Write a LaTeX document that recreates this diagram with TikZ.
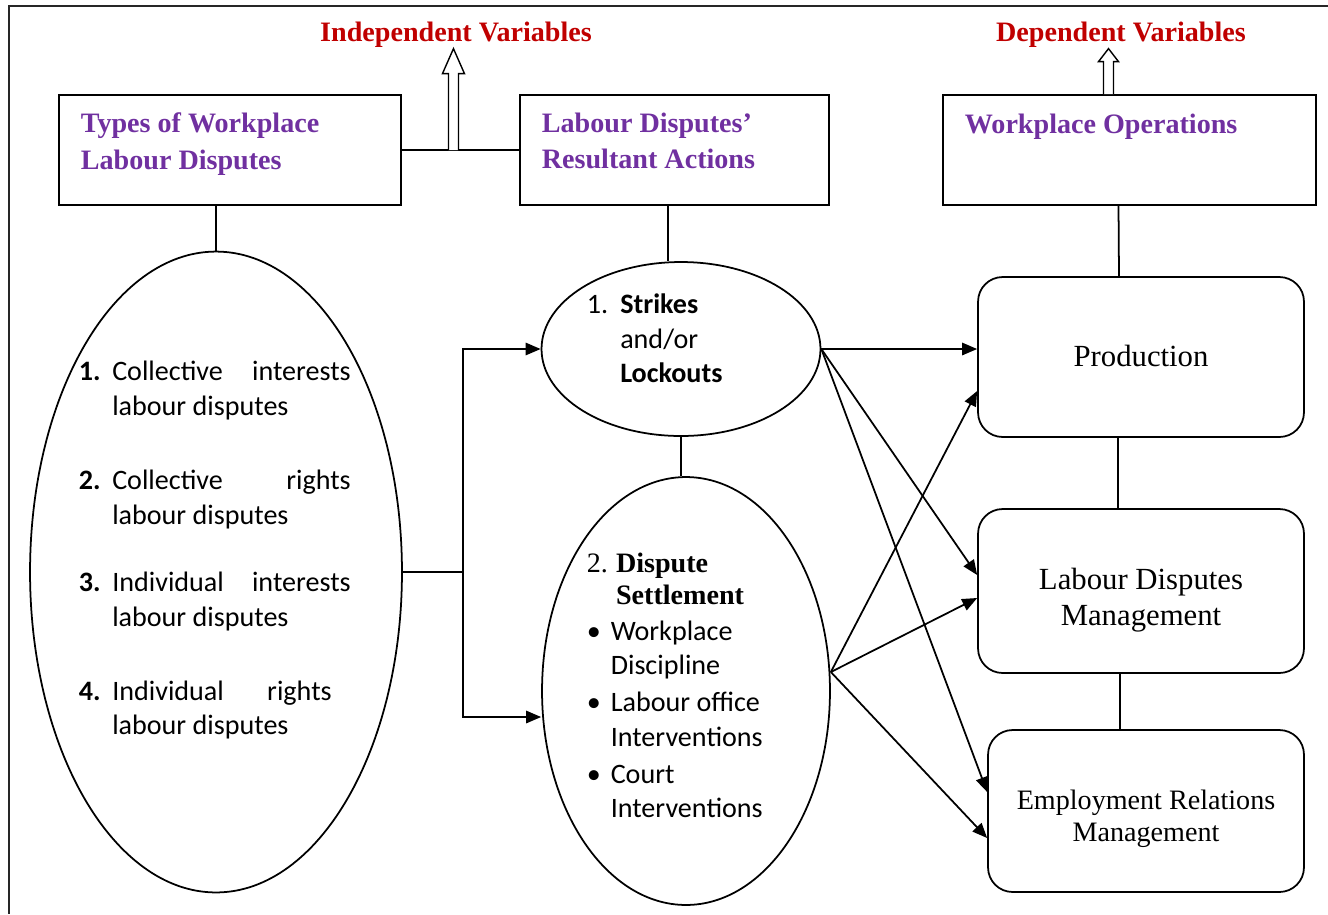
\documentclass[tikz,border=0pt]{standalone}
\usepackage{fontspec}
\setmainfont{Liberation Serif}
\newfontfamily\calibri{Carlito}
\usepackage{tikz}
\usetikzlibrary{shapes.geometric,arrows.meta,calc,positioning}
\definecolor{titlepurple}{RGB}{112,48,160}
\definecolor{varred}{RGB}{192,0,0}

\begin{document}
\begin{tikzpicture}[x=0.02cm,y=-0.02cm,
    line width=1pt,
    plainbox/.style={draw, rectangle, minimum height=2.2cm, inner sep=0},
    roundbox/.style={draw, rectangle, rounded corners=14pt, inner sep=0},
    oval/.style={draw, ellipse, inner sep=0},
    boxtitle/.style={anchor=north west, inner sep=0, align=left, text=titlepurple,
        font=\fontsize{16}{20.8}\selectfont\bfseries},
    vartitle/.style={inner sep=0, text=varred, font=\fontsize{16}{19}\selectfont\bfseries},
    optext/.style={inner sep=0, align=center},
    arr/.style={-{Triangle[length=8.5pt,width=7pt]}},
    hollow/.style={fill=white, line width=0.8pt}
]
\useasboundingbox (0,0) rectangle (1328,914);

% frame
\draw[line width=1.4pt, black!85] (8,6) -- (1328,6);
\draw[line width=0.8pt, black!85] (9,6) -- (9,914);

% variable headings
\node[vartitle] (indep) at (456,35) {Independent Variables};
\node[vartitle] (dep) at (1121,35) {Dependent Variables};

% top boxes
\node[plainbox, minimum width=6.84cm] (box1) at (230,150) {};
\node[plainbox, minimum width=6.18cm] (box2) at (674.5,150) {};
\node[plainbox, minimum width=7.46cm] (box3) at (1129.5,150) {};
\node[boxtitle] (box1title) at (80,112) {Types of Workplace\\Labour Disputes};
\node[boxtitle] (box2title) at (541,112) {Labour Disputes'\\Resultant Actions};
\node[boxtitle] (box3title) at (964,113.5) {Workplace Operations};

% ellipses
\node[oval, minimum width=7.44cm, minimum height=12.82cm] (types) at (216,572) {};
\node[oval, minimum width=5.58cm, minimum height=3.48cm] (strikes) at (681,349) {};
\node[oval, minimum width=5.76cm, minimum height=8.56cm] (settle) at (686,691) {};

\node[anchor=north west, inner sep=0, font=\calibri\fontsize{16}{19.6}\selectfont] (typestext) at (78,355.8) {%
  \begin{tabular}{@{}p{19pt}@{}p{4.77cm}@{}}
    \textbf{1.} & Collective\hfill interests\newline labour disputes\\[22.9pt]
    \textbf{2.} & Collective\hfill rights\newline labour disputes\\[18.9pt]
    \textbf{3.} & Individual\hfill interests\newline labour disputes\\[22.4pt]
    \textbf{4.} & Individual\hspace{24.7pt}rights\newline labour disputes
  \end{tabular}};

\node[anchor=north west, inner sep=0, font=\calibri\fontsize{16}{19.6}\selectfont] (strikestext) at (586,289) {%
  \begin{tabular}{@{}p{19pt}@{}l@{}}
    1. & \textbf{Strikes}\\
       & and/or\\
       & \textbf{Lockouts}
  \end{tabular}};

\node[anchor=north west, inner sep=0, font=\fontsize{16}{18}\selectfont] (settletext) at (586,549.5) {%
  \begin{tabular}{@{}l@{}}
    \makebox[16.6pt][l]{2.}\textbf{Dispute}\\
    \hspace*{16.6pt}\textbf{Settlement}\\[2.6pt]
    {\calibri\makebox[13.6pt][l]{\textbullet}Workplace}\\[1.5pt]
    {\calibri\hspace*{13.6pt}Discipline}\\[3.2pt]
    {\calibri\makebox[13.6pt][l]{\textbullet}Labour office}\\[1.5pt]
    {\calibri\hspace*{13.6pt}Interventions}\\[3.2pt]
    {\calibri\makebox[13.6pt][l]{\textbullet}Court}\\[1.6pt]
    {\calibri\hspace*{13.6pt}Interventions}
  \end{tabular}};

% outcome boxes
\node[roundbox, minimum width=6.52cm, minimum height=3.2cm] (prod) at (1141,357) {};
\node[roundbox, minimum width=6.52cm, minimum height=3.28cm] (ldm) at (1141,591) {};
\node[roundbox, minimum width=6.32cm, minimum height=3.24cm] (erm) at (1146,811) {};
\node[optext, font=\fontsize{17.5}{20.4}\selectfont] (prodtext) at (1141,356) {Production};
\node[optext, font=\fontsize{17.5}{20.4}\selectfont] (ldmtext) at (1141,600) {Labour Disputes\\Management};
\node[optext, font=\fontsize{16}{18}\selectfont] (ermtext) at (1146,819) {Employment Relations\\Management};

% hollow arrows to the headings
\draw (box1.east) -- (box2.west);
\coordinate (ivbase) at ($(box1.east)!0.44!(box2.west)$);
\coordinate (ivtip) at (ivbase |- indep.south);
\draw[hollow] ($(ivbase)+(-5,0)$) -- ($(ivtip)+(-5,25)$) -- ($(ivtip)+(-11,25)$) -- (ivtip)
    -- ($(ivtip)+(11,25)$) -- ($(ivtip)+(5,25)$) -- ($(ivbase)+(5,0)$);
\coordinate (dvbase) at ($(box3.north)+(-21,0)$);
\coordinate (dvtip) at (dvbase |- dep.south);
\draw[hollow] ($(dvbase)+(-5,0)$) -- ($(dvtip)+(-5,13)$) -- ($(dvtip)+(-10,13)$) -- (dvtip)
    -- ($(dvtip)+(10,13)$) -- ($(dvtip)+(5,13)$) -- ($(dvbase)+(5,0)$);

% vertical links
\draw (types.north) -- (types.north |- box1.south);
\coordinate (skin) at ($(strikes.north)+(-13,0)$);
\draw (skin) -- (skin |- box2.south);
\draw (strikes.south) -- (strikes.south |- settle.north);
\draw ($(box3.south)+(-11,0)$) -- ($(prod.north)+(-22,0)$);
\draw ($(prod.south)+(-23,0)$) -- ($(ldm.north)+(-23,0)$);
\draw ($(ldm.south)+(-21,0)$) -- ($(erm.north)+(-26,0)$);

% types -> actions
\coordinate (fork) at (463,572);
\draw (types.east) -- (fork);
\draw[arr] (fork) |- (strikes.west);
\coordinate (settlein) at ($(settle.west)+(0,26)$);
\draw[arr] (fork) |- (settlein);

% actions -> operations
\coordinate (setout) at ($(settle.east)+(0,-19)$);
\draw[arr] (strikes.east) -- ($(prod.west)+(0,-8)$);
\draw[arr] (strikes.east) -- ($(ldm.west)+(0,-16)$);
\draw[arr] (strikes.east) -- ($(erm.west)+(0,-19)$);
\draw[arr] (setout) -- ($(prod.west)+(0,34)$);
\draw[arr] (setout) -- ($(ldm.west)+(0,7)$);
\draw[arr] (setout) -- ($(erm.west)+(0,27)$);
\end{tikzpicture}
\end{document}
